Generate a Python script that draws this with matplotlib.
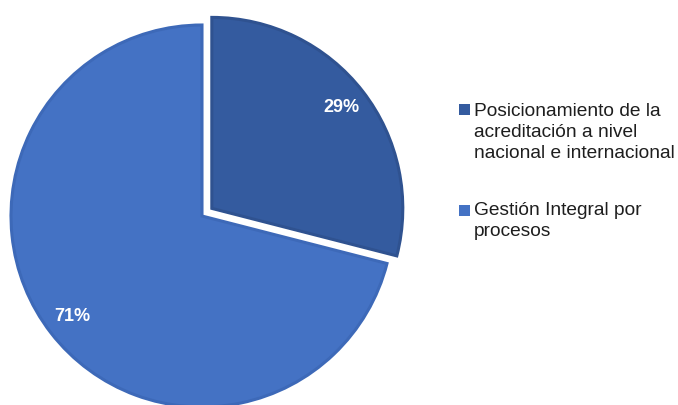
import matplotlib.pyplot as plt
import matplotlib.patches as patches

# data
labels = ["Posicionamiento de la\nacreditación a nivel\nnacional e internacional",
          "Gestión Integral por\nprocesos"]
values = [29, 71]
colors = ["#345B9F", "#4472C4"]
edge_colors = ["#2F5290", "#3D69B8"]

W, H = 678, 405
fig = plt.figure(figsize=(W / 100, H / 100), dpi=100)
ax = fig.add_axes([0, 0, 1, 1])

# pie centre and radius in pixels
cx, cy, r = 202, 216, 191

wedges, texts, autotexts = ax.pie(
    values, colors=colors, startangle=90, counterclock=False,
    explode=[0.065, 0], autopct='%1.0f%%', pctdistance=0.86,
    wedgeprops=dict(linewidth=2.2),
    textprops=dict(color='white', fontsize=13, fontweight='bold',
                   family='Liberation Sans'))
for w, ec in zip(wedges, edge_colors):
    w.set_edgecolor(ec)

ax.set_xlim(-cx / r, (W - cx) / r)
ax.set_ylim(-(H - cy) / r, cy / r)
ax.axis('off')

# legend drawn by hand
square_tops = [104, 205]
text_tops = [103, 202]
for lab, col, sy, ty in zip(labels, colors, square_tops, text_tops):
    fig.patches.append(patches.Rectangle((459 / W, 1 - (sy + 11) / H), 11 / W, 11 / H,
                                         transform=fig.transFigure, facecolor=col,
                                         edgecolor='none'))
    fig.text(474 / W, 1 - ty / H, lab, ha='left', va='top', fontsize=13.8,
             family='Liberation Sans', color='#1e1e1e', linespacing=1.3)

fig.savefig("out.png", dpi=100)
